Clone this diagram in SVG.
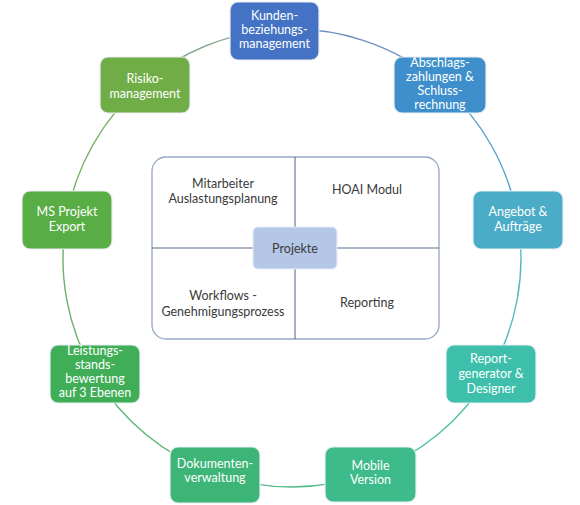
<svg xmlns="http://www.w3.org/2000/svg" width="580" height="505" viewBox="0 0 580 505">
<style>
.bx{stroke:#e9eef3;stroke-width:1.2}
.bt{font-family:Lato,"Open Sans",sans-serif;font-size:12.5px;fill:#fff;text-anchor:middle}
.ct{font-family:Lato,"Open Sans",sans-serif;font-size:12.5px;fill:#3a3a3a;text-anchor:middle}
.arc{fill:none;stroke-width:1.4}
</style>
<rect width="580" height="505" fill="#fff"/>
<g id="connectors">
<path class="arc" stroke="#6f8fc4" d="M274.4,29.7 A229,229 0 0 1 440.9,84.0"/>
<path class="arc" stroke="#5aa3c9" d="M440.9,84.0 A229,229 0 0 1 517.8,220.0"/>
<path class="arc" stroke="#58b8c2" d="M517.8,220.0 A229,229 0 0 1 489.8,373.4"/>
<path class="arc" stroke="#4fbea6" d="M489.8,373.4 A229,229 0 0 1 370.1,473.2"/>
<path class="arc" stroke="#4fba88" d="M370.1,473.2 A229,229 0 0 1 215.5,473.9"/>
<path class="arc" stroke="#5ab473" d="M215.5,473.9 A229,229 0 0 1 94.6,374.3"/>
<path class="arc" stroke="#68b268" d="M94.6,374.3 A229,229 0 0 1 66.2,219.8"/>
<path class="arc" stroke="#7cb46a" d="M66.2,219.8 A229,229 0 0 1 143.6,83.5"/>
<path class="arc" stroke="#8fa890" d="M143.6,83.5 A229,229 0 0 1 274.4,29.7"/>
</g>
<g id="center">
<rect x="152" y="157" width="287" height="182" rx="14" fill="#fff" stroke="#97a7c4" stroke-width="1.3"/>
<line x1="295" y1="157" x2="295" y2="339" stroke="#5b6f8f" stroke-width="1.1"/>
<line x1="152" y1="248" x2="439" y2="248" stroke="#5b6f8f" stroke-width="1.1"/>
<text class="ct" x="223" y="188">Mitarbeiter</text>
<text class="ct" x="223" y="203">Auslastungsplanung</text>
<text class="ct" x="367" y="194">HOAI Modul</text>
<text class="ct" x="223" y="300">Workflows -</text>
<text class="ct" x="223" y="316">Genehmigungsprozess</text>
<text class="ct" x="367" y="307">Reporting</text>
</g>
<g id="projekte">
<rect x="253" y="227" width="84" height="42" rx="5" fill="#b4c7e7" stroke="#e6edf6" stroke-width="1"/>
<text class="ct" x="295" y="253">Projekte</text>
</g>
<g id="kunden">
<rect class="bx" x="230" y="2" width="89" height="58" rx="8" fill="#4472c4"/>
<text class="bt" x="274.5" y="20">Kunden-</text>
<text class="bt" x="274.5" y="34">beziehungs-</text>
<text class="bt" x="274.5" y="48">management</text>
</g>
<g id="abschlags">
<rect class="bx" x="394" y="57" width="92" height="56" rx="8" fill="#3e8fcb"/>
<text class="bt" x="440" y="67">Abschlags-</text>
<text class="bt" x="440" y="81">zahlungen &amp;</text>
<text class="bt" x="440" y="95">Schluss-</text>
<text class="bt" x="440" y="109">rechnung</text>
</g>
<g id="angebot">
<rect class="bx" x="473" y="191" width="90" height="58" rx="8" fill="#4aacc6"/>
<text class="bt" x="518" y="216">Angebot &amp;</text>
<text class="bt" x="518" y="231">Aufträge</text>
</g>
<g id="report">
<rect class="bx" x="446" y="345" width="90" height="58" rx="8" fill="#3dbfab"/>
<text class="bt" x="491" y="363">Report-</text>
<text class="bt" x="491" y="378">generator &amp;</text>
<text class="bt" x="491" y="393">Designer</text>
</g>
<g id="mobile">
<rect class="bx" x="325" y="447" width="91" height="55" rx="8" fill="#3dbb8a"/>
<text class="bt" x="370.5" y="470">Mobile</text>
<text class="bt" x="370.5" y="484">Version</text>
</g>
<g id="dokumenten">
<rect class="bx" x="170" y="447" width="90" height="56" rx="8" fill="#3db576"/>
<text class="bt" x="215" y="468">Dokumenten-</text>
<text class="bt" x="215" y="482">verwaltung</text>
</g>
<g id="leistungs">
<rect class="bx" x="50" y="345" width="90" height="58" rx="8" fill="#3fae57"/>
<text class="bt" x="95" y="355">Leistungs-</text>
<text class="bt" x="95" y="369">stands-</text>
<text class="bt" x="95" y="383">bewertung</text>
<text class="bt" x="95" y="397">auf 3 Ebenen</text>
</g>
<g id="msprojekt">
<rect class="bx" x="22" y="191" width="90" height="58" rx="8" fill="#58ad45"/>
<text class="bt" x="67" y="216">MS Projekt</text>
<text class="bt" x="67" y="231">Export</text>
</g>
<g id="risiko">
<rect class="bx" x="100" y="57" width="90" height="56" rx="8" fill="#70ad47"/>
<text class="bt" x="145" y="83">Risiko-</text>
<text class="bt" x="145" y="98">management</text>
</g>
</svg>
